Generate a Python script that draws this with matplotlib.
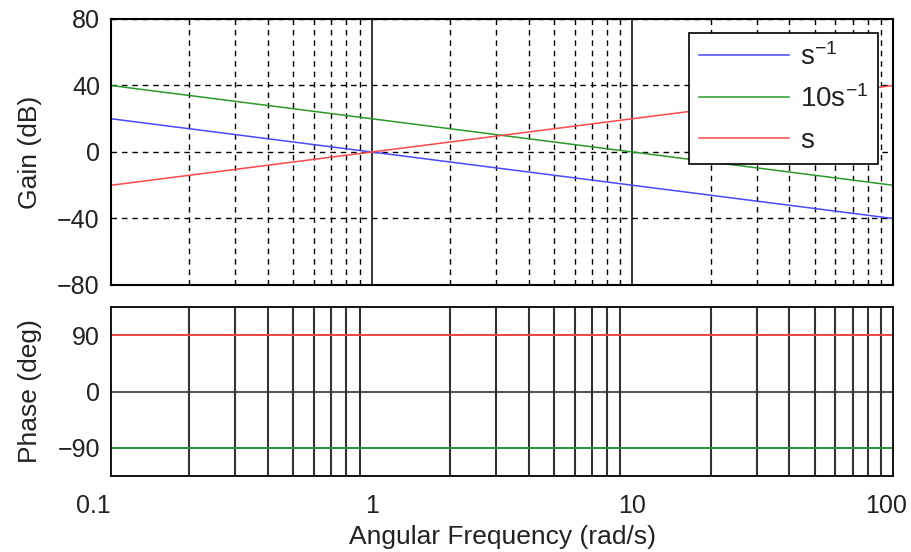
import matplotlib
matplotlib.use("Agg")
import matplotlib.pyplot as plt
import matplotlib.transforms as mtransforms
from matplotlib.ticker import LogLocator, NullFormatter, FixedLocator, FixedFormatter

plt.rcParams["font.family"] = ["Liberation Sans", "DejaVu Sans"]
plt.rcParams["mathtext.fontset"] = "custom"
plt.rcParams["mathtext.rm"] = "Liberation Sans"
plt.rcParams["mathtext.default"] = "regular"
plt.rcParams["axes.unicode_minus"] = True

# angular frequency (rad/s)
freq = [0.1, 1, 10, 100]

# gain (dB)
gain_inv_s = [20, 0, -20, -40]
gain_10_inv_s = [40, 20, 0, -20]
gain_s = [-20, 0, 20, 40]

# phase (deg)
phase_inv_s = [-90, -90, -90, -90]
phase_10_inv_s = [-90, -90, -90, -90]
phase_s = [90, 90, 90, 90]

labels = ["s$^{-1}$", "10s$^{-1}$", "s"]
colors = ["#4848ff", "#2a9a2a", "#ff4848"]

gain_ticks = [-80, -40, 0, 40, 80]
phase_ticks = [-90, 0, 90]
freq_ticks = [0.1, 1, 10, 100]
freq_tick_labels = ["0.1", "1", "10", "100"]

fig = plt.figure(figsize=(9.12, 5.52), dpi=100)
ax1 = fig.add_axes([0.1217, 0.4837, 0.8575, 0.4819])
ax2 = fig.add_axes([0.1217, 0.1377, 0.8575, 0.3061])

fs = 18
txt = "#222222"
dash = (0, (4, 3.5))

# gain
for y, lab, c in zip([gain_inv_s, gain_10_inv_s, gain_s], labels, colors):
    ax1.plot(freq, y, color=c, lw=1.1, label=lab, zorder=3)
ax1.set_xscale("log")
ax1.set_xlim(0.1, 100)
ax1.set_ylim(-80, 80)
ax1.yaxis.set_major_locator(FixedLocator(gain_ticks))
ax1.xaxis.set_major_locator(FixedLocator(freq_ticks))
ax1.xaxis.set_minor_locator(LogLocator(base=10, subs=range(2, 10)))
ax1.xaxis.set_major_formatter(NullFormatter())
ax1.xaxis.set_minor_formatter(NullFormatter())
ax1.grid(which="major", axis="x", color="black", linestyle="-", lw=1.1)
ax1.grid(which="minor", axis="x", color="black", linestyle=dash, lw=1.0)
ax1.grid(which="major", axis="y", color="black", linestyle=dash, lw=1.0)
ax1.tick_params(which="both", length=0, labelsize=fs, pad=8, colors=txt)
ax1.set_ylabel("Gain (dB)", fontsize=19, labelpad=11, color=txt)
for sp in ax1.spines.values():
    sp.set_linewidth(1.5)
    sp.set_zorder(4)

leg = ax1.legend(loc="upper right", bbox_to_anchor=(0.981, 0.947), borderaxespad=0,
                 fontsize=20, handlelength=3.25, labelspacing=0.52, handletextpad=0.4,
                 borderpad=0.36, fancybox=False, framealpha=1, edgecolor="black")
leg.get_frame().set_linewidth(1.2)
leg.set_zorder(5)
for t in leg.get_texts():
    t.set_color(txt)

# phase
for y, c in zip([phase_inv_s, phase_10_inv_s, phase_s], colors):
    ax2.plot(freq, y, color=c, lw=1.3, zorder=3)
ax2.set_xscale("log")
ax2.set_xlim(0.1, 100)
ax2.set_ylim(-135, 135)
ax2.yaxis.set_major_locator(FixedLocator(phase_ticks))
ax2.xaxis.set_major_locator(FixedLocator(freq_ticks))
ax2.xaxis.set_major_formatter(FixedFormatter(freq_tick_labels))
ax2.xaxis.set_minor_locator(LogLocator(base=10, subs=range(2, 10)))
ax2.xaxis.set_minor_formatter(NullFormatter())
ax2.grid(which="minor", axis="x", color="#333333", linestyle="-", lw=1.5)
ax2.grid(which="major", axis="y", color="#333333", linestyle="-", lw=1.2)
ax2.tick_params(which="both", length=0, labelsize=fs, pad=8, colors=txt)
ax2.tick_params(axis="x", which="major", pad=13)
ax2.set_ylabel("Phase (deg)", fontsize=19, labelpad=11, color=txt)
ax2.set_xlabel("Angular Frequency (rad/s)", fontsize=19, labelpad=5, color=txt)
for sp in ax2.spines.values():
    sp.set_linewidth(1.3)
    sp.set_zorder(4)

# end labels pulled inside the figure as in the original
xt = ax2.get_xticklabels()
xt[0].set_horizontalalignment("right")
xt[-1].set_transform(xt[-1].get_transform()
                     + mtransforms.ScaledTranslation(-7 / 100, 0, fig.dpi_scale_trans))

fig.savefig("out.png", dpi=100)
